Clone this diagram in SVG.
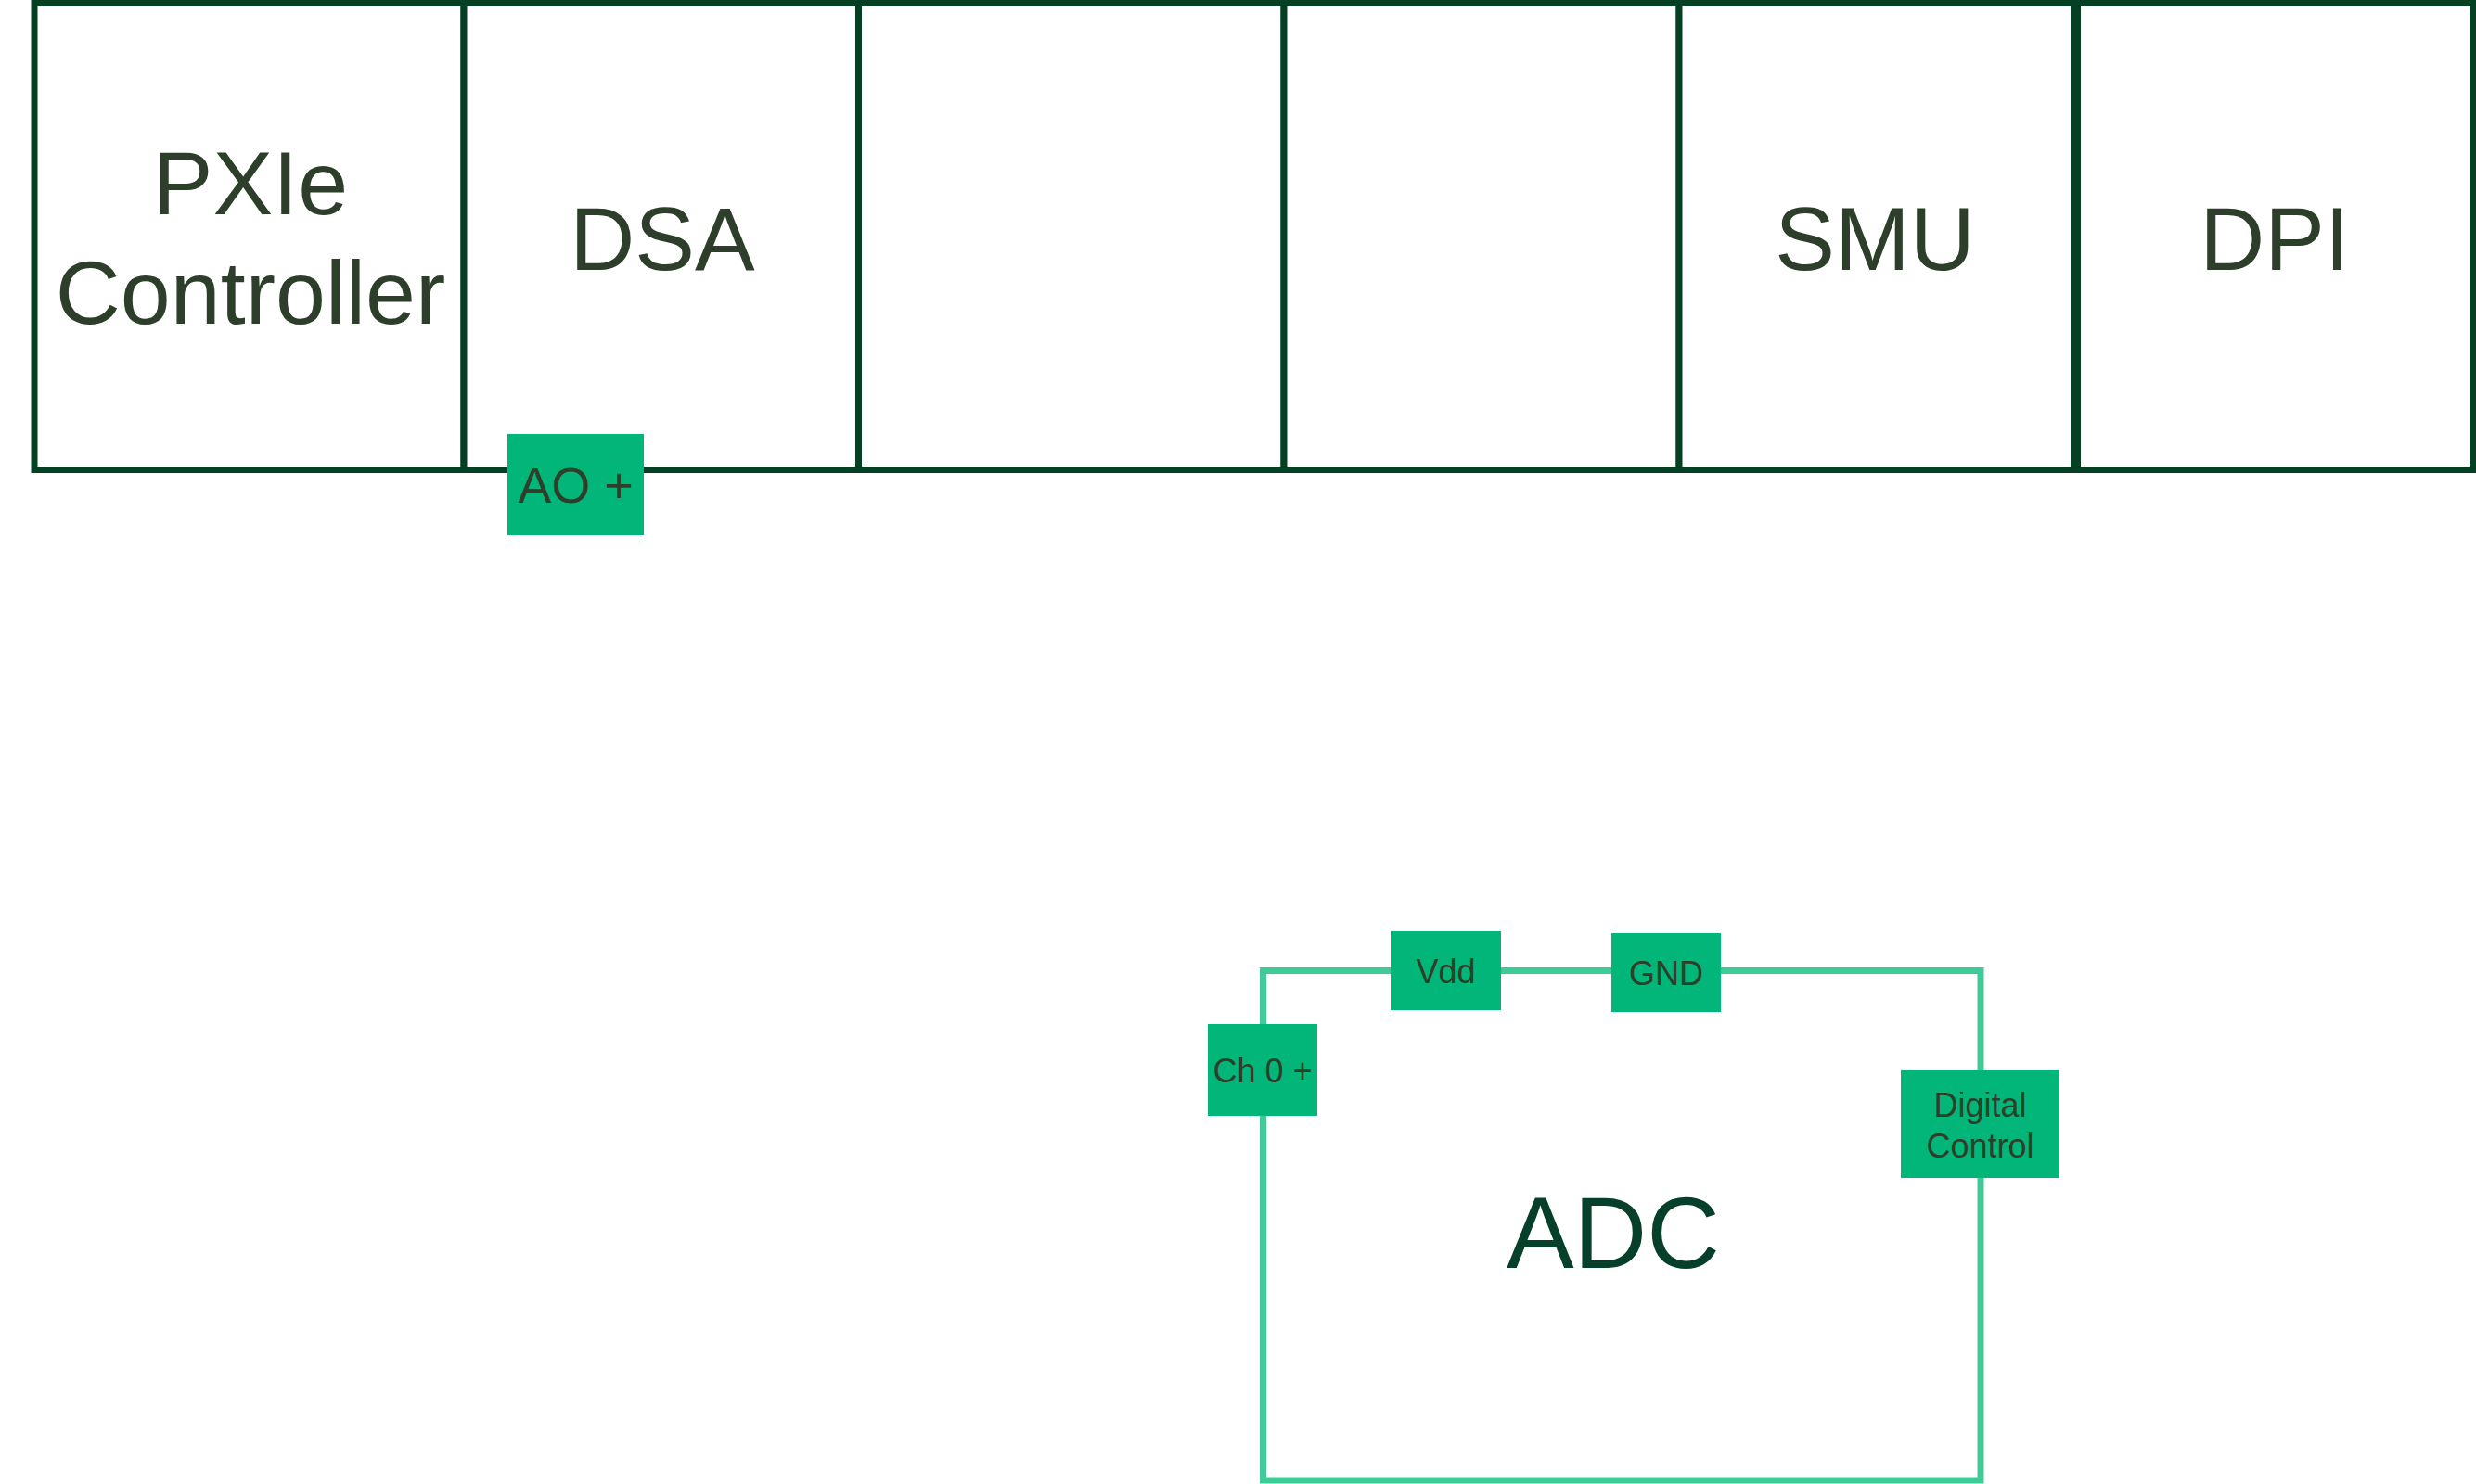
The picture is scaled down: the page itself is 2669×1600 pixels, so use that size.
<svg xmlns="http://www.w3.org/2000/svg" width="2669" height="1600" viewBox="0 0 2669 1600">
<style>
.cell{fill:#ffffff;stroke:#053f24;stroke-width:7}
.big{font-family:"Liberation Sans",Arial,sans-serif;font-size:97px;fill:#2d3f2a;text-anchor:middle}
.port{fill:#02b578;stroke:none}
.pt{font-family:"Liberation Sans",Arial,sans-serif;font-size:36px;fill:#2d3f2a;text-anchor:middle}
.adc{fill:none;stroke:#40ca98;stroke-width:7}
</style>
<rect width="2669" height="1600" fill="#ffffff"/>
<g id="connectors"></g>
<g id="pxie-controller">
<rect class="cell" x="37" y="3.5" width="463" height="503"/>
<text class="big" x="270" y="231">PXIe</text>
<text class="big" x="270" y="349">Controller</text>
</g>
<g id="dsa">
<rect class="cell" x="500" y="3.5" width="425.5" height="503"/>
<text class="big" x="714" y="291">DSA</text>
</g>
<g id="slot3">
<rect class="cell" x="925.5" y="3.5" width="458.5" height="503"/>
</g>
<g id="slot4">
<rect class="cell" x="1384" y="3.5" width="426" height="503"/>
</g>
<g id="smu">
<rect class="cell" x="1810" y="3.5" width="425.5" height="503"/>
<text class="big" x="2021" y="291">SMU</text>
</g>
<g id="dpi">
<rect class="cell" x="2239.5" y="3.5" width="426" height="503"/>
<text class="big" x="2452" y="291">DPI</text>
</g>
<g id="ao-plus">
<rect class="port" x="547" y="468" width="147" height="109"/>
<text class="pt" x="620.5" y="542" style="font-size:54px">AO +</text>
</g>
<g id="adc">
<rect class="adc" x="1361.5" y="1046.5" width="773.5" height="549.5"/>
<text x="1739" y="1367" style="font-family:'Liberation Sans',Arial,sans-serif;font-size:109px;fill:#06402b;text-anchor:middle">ADC</text>
</g>
<g id="vdd">
<rect class="port" x="1499" y="1004" width="119" height="85"/>
<text class="pt" x="1558.5" y="1060">Vdd</text>
</g>
<g id="gnd">
<rect class="port" x="1737" y="1006" width="118" height="85"/>
<text class="pt" x="1796" y="1062">GND</text>
</g>
<g id="ch0-plus">
<rect class="port" x="1302" y="1104" width="118" height="99"/>
<text class="pt" x="1361" y="1167">Ch 0 +</text>
</g>
<g id="digital-control">
<rect class="port" x="2049" y="1154" width="171" height="116"/>
<text class="pt" x="2134.5" y="1204">Digital</text>
<text class="pt" x="2134.5" y="1248">Control</text>
</g>
</svg>
